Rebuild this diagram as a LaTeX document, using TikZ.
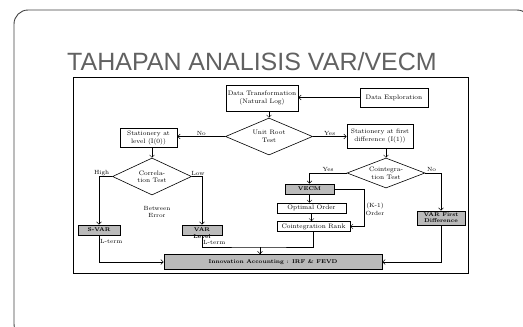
\documentclass[tikz,border=0pt]{standalone}
\usepackage{fontspec}
\newfontfamily\titlefont{Liberation Sans}
\usetikzlibrary{shapes.geometric,arrows.meta}

\begin{document}
\begin{tikzpicture}[x=1pt,y=-1pt,>={Straight Barb[length=2.5pt,width=5pt]},
        box/.style={draw,line width=0.9pt,fill=white,align=center,inner sep=1pt,font=\fontsize{6.5}{8}\selectfont},
        graybox/.style={draw,line width=0.9pt,fill=black!27,align=center,inner sep=0.5pt,font=\fontsize{5.5}{6}\selectfont\bfseries},
        decision/.style={diamond,draw,line width=0.6pt,fill=white,align=center,inner sep=0pt,font=\fontsize{6.5}{7.5}\selectfont},
        lbl/.style={font=\fontsize{6}{7.5}\selectfont,align=center,inner sep=1pt}]
                \useasboundingbox (0,0) rectangle (523,327);
                \clip (0,0) rectangle (523,327);
                % slide and diagram frames
                \draw[line width=0.9pt,black!75,rounded corners=14pt] (14,10) rectangle (531,338);
                \draw[line width=0.8pt] (73,77) rectangle (468,273);
                \node[anchor=base west,inner sep=0pt,text=black!62,font=\titlefont\fontsize{25}{29}\selectfont] (title) at (67,70) {TAHAPAN ANALISIS VAR/VECM};
                % steps
                \node[box,minimum width=72pt,minimum height=26pt] (dt) at (262,98) {Data Transformation\\(Natural Log)};
                \node[box,minimum width=68pt,minimum height=19pt] (de) at (394,97.5) {Data Exploration};
                \node[decision,aspect=2.35,minimum width=87pt,minimum height=37pt] (urt) at (269,136.5) {Unit Root\\Test};
                \node[box,minimum width=57pt,minimum height=19pt] (sl) at (148.5,138) {Stationery at\\level (I(0))};
                \node[box,minimum width=66pt,minimum height=24pt] (sfd) at (380,136) {Stationery at first\\difference (I(1))};
                \node[decision,aspect=2.1,minimum width=79pt,minimum height=37pt] (ct) at (152,176.5) {Correla-\\tion Test};
                \node[lbl] (berr) at (157,212) {Between\\Error};
                \node[graybox,minimum width=42pt,minimum height=10pt] (svar) at (99,230) {S-VAR};
                \node[graybox,minimum width=40pt,minimum height=10pt,
                    label={[font=\fontsize{5.5}{6.5}\selectfont\bfseries,align=center,inner sep=0pt,yshift=-3pt]center:VAR\\Level}] (varl) at (202,230) {};
                \node[decision,aspect=2.6,minimum width=78pt,minimum height=30pt] (coint) at (386,173) {Cointegra-\\tion Test};
                \node[graybox,minimum width=49pt,minimum height=10pt] (vecm) at (309.5,189) {VECM};
                \node[box,line width=0.6pt,minimum width=69pt,minimum height=10pt] (oo) at (311.5,208) {Optimal Order};
                \node[box,line width=0.6pt,minimum width=73pt,minimum height=10pt] (cr) at (313.5,226.5) {Cointegration Rank};
                \node[graybox,minimum width=48pt,minimum height=14pt] (vfd) at (441,218) {VAR First\\Difference};
                \node[graybox,minimum width=218pt,minimum height=15pt] (ia) at (273,262) {Innovation Accounting : IRF \& FEVD};
                % flow
                \draw[->] (de.west) -- (de.west -| dt.east);
                \draw[->] (dt.south -| urt.north) -- (urt.north);
                \draw[->] (urt.west) -- node[lbl,above] {No} (urt.west -| sl.east);
                \draw[->] (urt.east) -- node[lbl,above] {Yes} (urt.east -| sfd.west);
                \draw[->] (sl.south -| ct.north) -- (ct.north);
                \draw[->] (ct.west) -| node[lbl,above,pos=0.4] {High} (svar.north);
                \draw[->] (ct.east) -| node[lbl,above,pos=0.3] {Low} (varl.north);
                \draw[->] (svar.south) |- node[lbl,right,pos=0.12] {L-term} (ia.west);
                \coordinate (jn) at (260,247);
                \draw (varl.south) |- node[lbl,right,pos=0.3] {L-term} (jn) -| (cr.south);
                \draw[->] (jn) -- (jn |- ia.north);
                \draw[->] (sfd.south -| coint.north) -- (coint.north);
                \draw[->] (coint.west) -| node[lbl,above,pos=0.25] {Yes} (vecm.north);
                \draw[->] (coint.east) -| node[lbl,above,pos=0.2] {No} (vfd.north);
                \draw[->] (vecm.south) -- (vecm.south |- oo.north);
                \draw[->] (oo.south) -- (oo.south |- cr.north);
                \draw[->] (vecm.east) -- ++(30,0) |- node[lbl,right,pos=0.27] {(K-1)\\Order} (cr.east);
                \draw[->] (vfd.south) |- (ia.east);
            \end{tikzpicture}
\end{document}
